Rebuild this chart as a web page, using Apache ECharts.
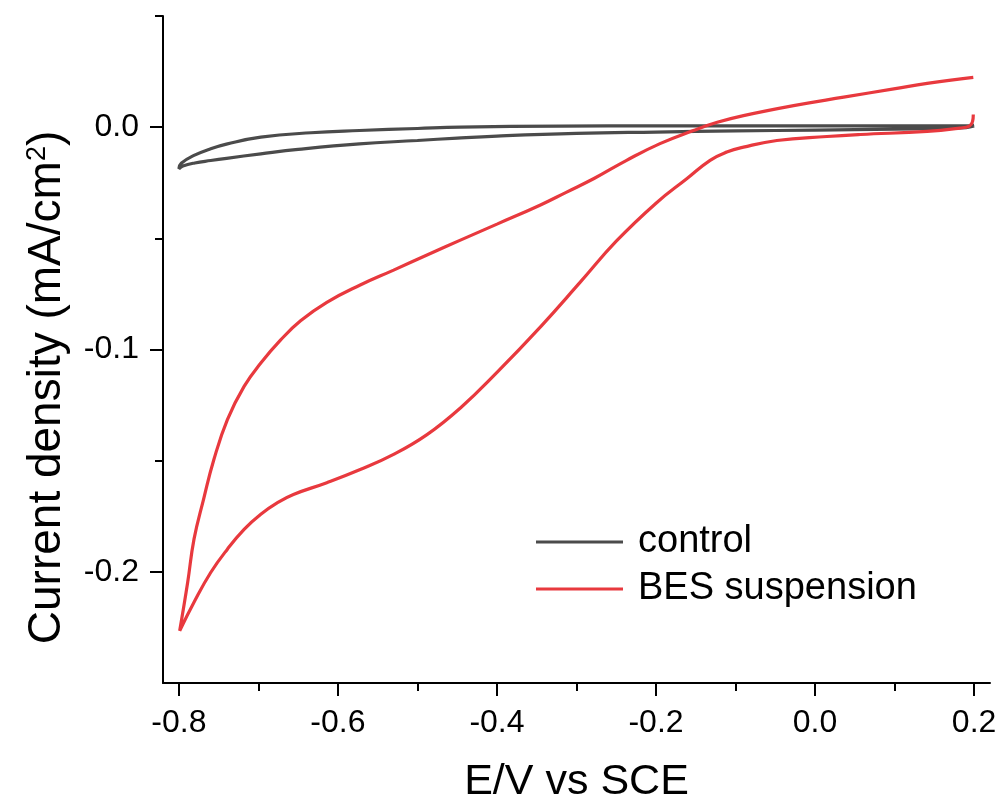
<!DOCTYPE html>
<html>
<head>
<meta charset="utf-8">
<script src="https://cdn.jsdelivr.net/npm/echarts@6/dist/echarts.min.js"></script>
<style>
  html, body { margin: 0; padding: 0; background: #fff; }
  #chart { width: 1002px; height: 805px; }
</style>
</head>
<body>
<div id="chart"></div>
<script>
// Cyclic voltammograms: potential (V vs SCE) and current density (mA/cm2)
const controlPotential = [
  0.2, 0.19, 0.15, 0.1, 0.0, -0.1, -0.2, -0.3, -0.4, -0.45, -0.5, -0.573, -0.65, -0.697, -0.74, -0.76, -0.78, -0.795, -0.8,
  -0.797, -0.781, -0.76, -0.739, -0.697, -0.634, -0.573, -0.5, -0.446, -0.32, -0.2, 0.0, 0.19, 0.2
];
const controlCurrent = [
  0.0005, -0.0002, -0.0006, -0.0009, -0.0013, -0.0017, -0.0022, -0.0028, -0.0040, -0.0049, -0.0060, -0.0075, -0.0100, -0.0120, -0.0140, -0.0150, -0.0161, -0.0175, -0.0187,
  -0.0162, -0.0127, -0.0097, -0.0075, -0.0045, -0.0025, -0.0015, -0.0006, 0.0, 0.0005, 0.0006, 0.0006, 0.0006, 0.001
];

// cathodic sweep (0.2 -> -0.8) followed by the return sweep (-0.8 -> 0.2)
const besPotential = [
  0.199, 0.198, 0.194, 0.182, 0.141, 0.057, 0.015, -0.048, -0.090, -0.111, -0.132, -0.161, -0.200, -0.250, -0.295, -0.345, -0.400,
  -0.446, -0.488, -0.530, -0.572, -0.614, -0.656, -0.676, -0.697, -0.718, -0.739, -0.760, -0.781, -0.799,
  -0.789, -0.781, -0.769, -0.756, -0.739, -0.718, -0.697, -0.672, -0.647, -0.614, -0.572, -0.530, -0.488, -0.446, -0.400,
  -0.346, -0.313, -0.278, -0.237, -0.195, -0.153, -0.123, -0.090, -0.027, 0.036, 0.099, 0.141, 0.199
];
const besCurrent = [
  0.0057, 0.0025, 0.0005, -0.0004, -0.0019, -0.0033, -0.0042, -0.0060, -0.0090, -0.0112, -0.0149, -0.0231, -0.0342, -0.0513, -0.0696, -0.0897, -0.1103,
  -0.1263, -0.1383, -0.1472, -0.1540, -0.1599, -0.1652, -0.1689, -0.1741, -0.1809, -0.1898, -0.2003, -0.2137, -0.2265,
  -0.2048, -0.1853, -0.1674, -0.1495, -0.1315, -0.1166, -0.1061, -0.0957, -0.0871, -0.0788, -0.0710, -0.0643, -0.0575, -0.0508, -0.0436,
  -0.0351, -0.0293, -0.0231, -0.0149, -0.0074, -0.0015, 0.0022, 0.0052, 0.0097, 0.0135, 0.0172, 0.0197, 0.0224
];

const xMajorTicks = [-0.8, -0.6, -0.4, -0.2, 0.0, 0.2];
const xMinorTicks = [-0.7, -0.5, -0.3, -0.1, 0.1];
const yMajorTicks = [-0.2, -0.1, 0.0];
const yMinorTicks = [-0.15, -0.05, 0.05];

const seriesNames = ['control', 'BES suspension'];
const seriesColors = ['#4b4b4b', '#e8393e'];

const pairs = (xs, ys) => xs.map((x, i) => [x, ys[i]]);

const FONT = '"Liberation Sans", Arial, Helvetica, sans-serif';
const X_MIN = -0.82, X_MAX = 0.22, Y_MIN = -0.25, Y_MAX = 0.05;

const chart = echarts.init(document.getElementById('chart'), null, { renderer: 'canvas' });

const option = {
  backgroundColor: '#ffffff',
  animation: false,
  textStyle: { fontFamily: FONT, color: '#000' },
  grid: { left: 163, right: 12, top: 16, bottom: 122, containLabel: false, outerBoundsMode: 'none' },
  legend: {
    orient: 'vertical',
    left: 536,
    top: 522,
    padding: 0,
    icon: 'rect',
    itemWidth: 87,
    itemHeight: 3,
    itemGap: 7,
    data: seriesNames,
    textStyle: { fontFamily: FONT, fontSize: 38, color: '#000', lineHeight: 40, padding: [0, 0, 0, 10] }
  },
  xAxis: [
    {
      type: 'value', min: X_MIN, max: X_MAX, position: 'bottom',
      name: 'E/V vs SCE', nameLocation: 'middle', nameGap: 78,
      nameTextStyle: { fontFamily: FONT, fontSize: 43, color: '#000' },
      axisLine: { show: true, onZero: false, lineStyle: { color: '#000', width: 2 } },
      axisTick: { show: true, inside: false, length: 13, customValues: xMajorTicks, lineStyle: { color: '#000', width: 2 } },
      axisLabel: { show: true, customValues: xMajorTicks, margin: 24, fontFamily: FONT, fontSize: 32, color: '#000',
        formatter: v => v.toFixed(1) },
      splitLine: { show: false }
    },
    {
      type: 'value', min: X_MIN, max: X_MAX, position: 'bottom', offset: 0,
      axisLine: { show: false, onZero: false },
      axisTick: { show: true, inside: false, length: 8, customValues: xMinorTicks, lineStyle: { color: '#000', width: 2 } },
      axisLabel: { show: false },
      splitLine: { show: false }
    }
  ],
  yAxis: [
    {
      type: 'value', min: Y_MIN, max: Y_MAX, position: 'left',
      name: 'Current density (mA/cm{sup|2})', nameLocation: 'middle', nameGap: 93, nameRotate: 90,
      nameTextStyle: {
        fontFamily: FONT, fontSize: 46, color: '#000', padding: [0, 76, 0, 0],
        rich: { sup: { fontFamily: FONT, fontSize: 27, color: '#000', verticalAlign: 'top', lineHeight: 46 } }
      },
      axisLine: { show: true, onZero: false, lineStyle: { color: '#000', width: 2 } },
      axisTick: { show: true, inside: false, length: 13, customValues: yMajorTicks, lineStyle: { color: '#000', width: 2 } },
      axisLabel: { show: true, customValues: yMajorTicks, margin: 24, fontFamily: FONT, fontSize: 32, color: '#000',
        formatter: v => v.toFixed(1) },
      splitLine: { show: false }
    },
    {
      type: 'value', min: Y_MIN, max: Y_MAX, position: 'left', offset: 0,
      axisLine: { show: false, onZero: false },
      axisTick: { show: true, inside: false, length: 8, customValues: yMinorTicks, lineStyle: { color: '#000', width: 2 } },
      axisLabel: { show: false },
      splitLine: { show: false }
    }
  ],
  series: [
    {
      name: seriesNames[0], type: 'line', xAxisIndex: 0, yAxisIndex: 0,
      data: pairs(controlPotential, controlCurrent),
      symbol: 'none', smooth: 0.45, clip: true,
      lineStyle: { color: seriesColors[0], width: 3.2 },
      itemStyle: { color: seriesColors[0] }
    },
    {
      name: seriesNames[1], type: 'line', xAxisIndex: 0, yAxisIndex: 0,
      data: pairs(besPotential, besCurrent),
      symbol: 'none', smooth: 0.45, clip: true,
      lineStyle: { color: seriesColors[1], width: 3.2 },
      itemStyle: { color: seriesColors[1] }
    }
  ]
};

chart.setOption(option);
</script>
</body>
</html>
